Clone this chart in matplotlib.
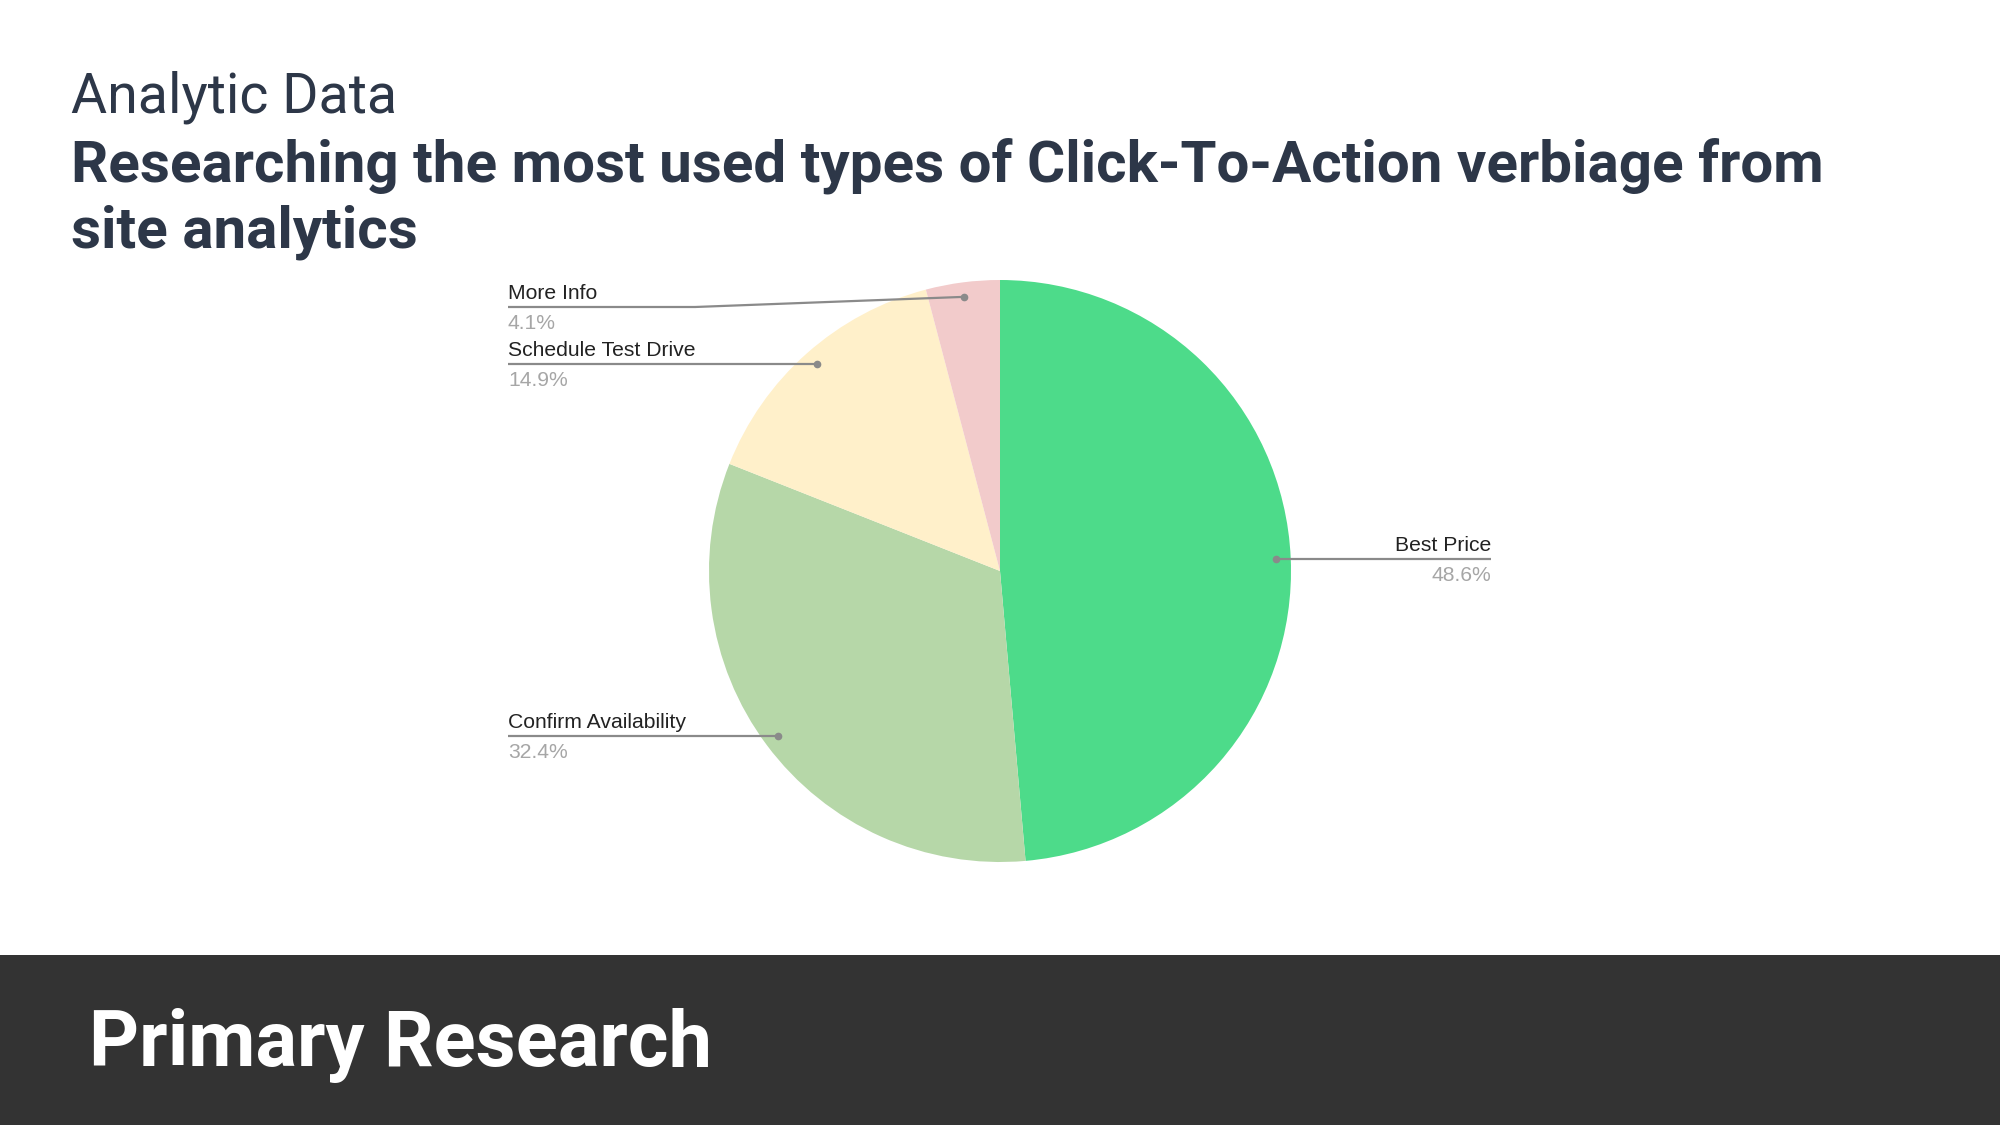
import numpy as np
import matplotlib
matplotlib.use("Agg")
import matplotlib.pyplot as plt

################################################# Data
labels = ["Best Price", "Confirm Availability", "Schedule Test Drive", "More Info"]
values = [48.6, 32.4, 14.9, 4.1]
colors = ["#4ddb8a", "#b6d7a8", "#fff0ca", "#f2cbcb"]

subtitle = "Analytic Data"
title_lines = ["Researching the most used types of Click-To-Action verbiage from", "site analytics"]
footer = "Primary Research"

################################################# Layout (pixel coords, top-left origin)
W, H = 2000, 1125
pie_c = (1000, 571)
pie_r = 291
label_y = [560, 736, 364, 307]        # y of leader line under each label
label_x = [1491, 508, 508, 508]       # text anchor x
elbow_x = [None, None, None, 695]
title_color = "#2d3748"

fig = plt.figure(figsize=(20, 11.25), dpi=100)
ax = fig.add_axes([0, 0, 1, 1])

def Y(y):
    return H - y

################################################# Titles
ax.text(71, Y(112), subtitle, fontsize=40, family="Roboto", color=title_color, va="baseline", ha="left")
ax.text(71, Y(181), title_lines[0], fontsize=42, family="Roboto", weight="bold", color=title_color, va="baseline", ha="left")
ax.text(71, Y(248), title_lines[1], fontsize=42, family="Roboto", weight="bold", color=title_color, va="baseline", ha="left")

################################################# Pie
wedges, _ = ax.pie(values, colors=colors, startangle=90, counterclock=False,
                   center=(pie_c[0], Y(pie_c[1])), radius=pie_r, frame=True,
                   wedgeprops=dict(linewidth=0))
ax.set_xlim(0, W)
ax.set_ylim(0, H)
ax.set_aspect("auto")
ax.axis("off")

for i, w in enumerate(wedges):
    mid = np.deg2rad((w.theta1 + w.theta2) / 2)
    dx = pie_c[0] + 0.95 * pie_r * np.cos(mid)
    dy = Y(pie_c[1]) + 0.95 * pie_r * np.sin(mid)
    ly = Y(label_y[i])
    if label_x[i] > pie_c[0]:
        xs = [dx, label_x[i]]
        ys = [dy, dy]
        ha = "right"
    else:
        if elbow_x[i] is not None:
            xs = [dx, elbow_x[i], label_x[i]]
            ys = [dy, ly, ly]
        else:
            xs = [dx, label_x[i]]
            ys = [dy, dy]
        ha = "left"
    ax.plot(xs, ys, color="#8a8a8a", lw=1.6, solid_capstyle="butt")
    ax.plot([dx], [dy], "o", color="#8a8a8a", ms=4.5)
    ty = ys[-1]
    ax.text(label_x[i], ty + 8, labels[i], fontsize=15.2, family="Liberation Sans",
            color="#222222", ha=ha, va="baseline")
    ax.text(label_x[i], ty - 22, f"{values[i]}%", fontsize=15.2, family="Liberation Sans",
            color="#a6a6a6", ha=ha, va="baseline")

################################################# Footer
ax.add_patch(plt.Rectangle((0, 0), W, Y(955), color="#333333", lw=0))
ax.text(89, Y(1066), footer, fontsize=56, family="Roboto", weight="bold", color="white",
        va="baseline", ha="left")

fig.savefig("out.png", dpi=100, facecolor="white")
